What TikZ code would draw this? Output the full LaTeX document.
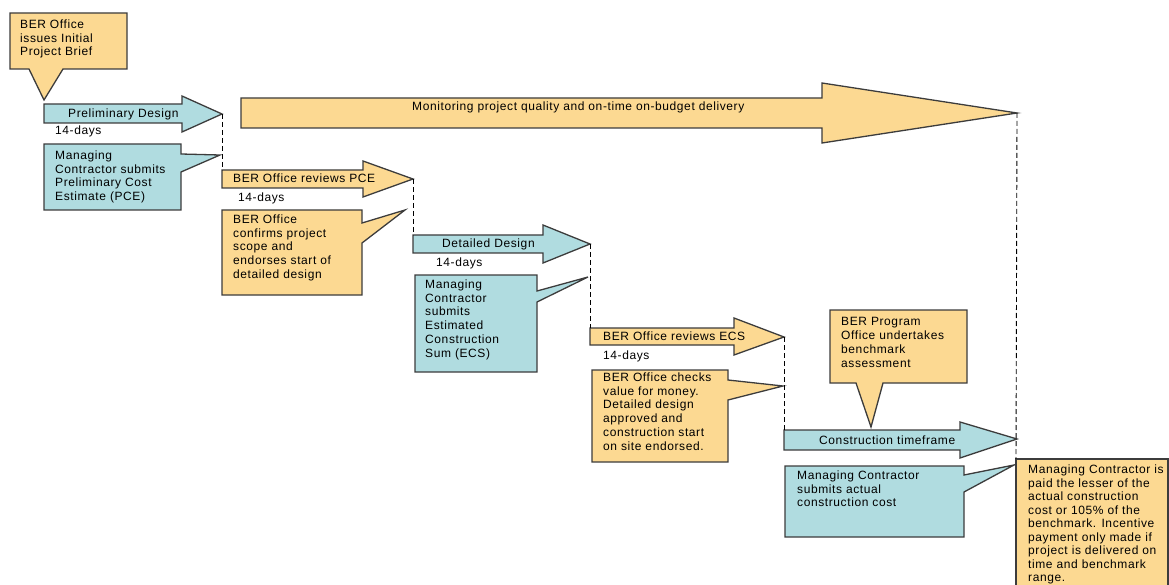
\documentclass[tikz,border=0pt]{standalone}
\usepackage{fontspec}
\setmainfont[LetterSpace=5]{Liberation Sans}
\definecolor{cYel}{RGB}{252,217,146}
\definecolor{cBlu}{RGB}{176,220,224}
\definecolor{cLine}{RGB}{60,60,60}
\begin{document}
\begin{tikzpicture}[x=1pt,y=-1pt,
  shp/.style={draw=cLine, line width=1.3pt, line join=miter},
  ybox/.style={shp, fill=cYel},
  bshape/.style={shp, fill=cBlu},
  lbl/.style={inner sep=0pt, anchor=west, font=\fontsize{12}{13.8}\selectfont},
  txt/.style={inner sep=0pt, anchor=north west, align=left, font=\fontsize{12}{13.8}\selectfont},
  sepline/.style={draw=black, line width=0.9pt, dash pattern=on 5pt off 3pt}]
\useasboundingbox (0,0) rectangle (1169,585);

% ---- arrows ----
% Preliminary Design
\draw[bshape] (44,104) -- (182,104) -- (182,96) -- (222,114) -- (182,132) -- (182,123) -- (44,123) -- cycle;
\coordinate (t1) at (222,114);
% Monitoring
\draw[ybox] (241,98) -- (822,98) -- (822,83) -- (1017,113) -- (822,143) -- (822,128) -- (241,128) -- cycle;
\coordinate (t2) at (1017,113);
% BER Office reviews PCE
\draw[ybox] (222,170) -- (363,170) -- (363,161) -- (413,179) -- (363,197) -- (363,188) -- (222,188) -- cycle;
\coordinate (s3) at (222,170);
\coordinate (t3) at (413,179);
% Detailed Design
\draw[bshape] (413,235) -- (543,235) -- (543,225) -- (590,244) -- (543,263) -- (543,253) -- (413,253) -- cycle;
\coordinate (s4) at (413,235);
\coordinate (t4) at (590,244);
% BER Office reviews ECS
\draw[ybox] (590,328) -- (734,328) -- (734,318) -- (784,337) -- (734,355) -- (734,345) -- (590,345) -- cycle;
\coordinate (s5) at (590,328);
\coordinate (t5) at (784,337);
% Construction timeframe
\draw[bshape] (784,430) -- (960,430) -- (960,422) -- (1017,439) -- (960,458) -- (960,450) -- (784,450) -- cycle;
\coordinate (s6) at (784,430);

% ---- callouts ----
\draw[ybox] (10,13) -- (127,13) -- (127,69) -- (63,69) -- (44,100) -- (29,69) -- (10,69) -- cycle;
\draw[bshape] (44,144) -- (181,144) -- (181,154) -- (220,155) -- (181,172) -- (181,210) -- (44,210) -- cycle;
\draw[ybox] (222,210) -- (362,210) -- (362,223) -- (405,210) -- (362,243) -- (362,295) -- (222,295) -- cycle;
\draw[bshape] (415,275) -- (537,275) -- (537,291) -- (588,277) -- (537,302) -- (537,372) -- (415,372) -- cycle;
\draw[ybox] (592,370) -- (728,370) -- (728,380) -- (783,386) -- (728,400) -- (728,462) -- (592,462) -- cycle;
\draw[ybox] (830,310) -- (967,310) -- (967,383) -- (883,383) -- (871,427) -- (856,383) -- (830,383) -- cycle;
\draw[bshape] (785,466) -- (964,466) -- (964,475) -- (1014,465) -- (964,492) -- (964,537) -- (785,537) -- cycle;
\draw[ybox] (1016,459) rectangle (1168,592);
\coordinate (b8) at (1016,459);

% ---- dashed separators ----
\draw[sepline] (t1) -- (s3);
\draw[sepline] (t3) -- (s4);
\draw[sepline] (t4) -- (s5);
\draw[sepline] (t5) -- (s6);
\draw[sepline] (t2) -- (b8);

% ---- texts ----
\node[lbl] (l1) at (68,114) {Preliminary Design};
\node[lbl] (d1) at (55,131) {14-days};
\node[lbl] (l2) at (412,107) {Monitoring project quality and on-time on-budget delivery};
\node[lbl] (l3) at (233,178) {BER Office reviews PCE};
\node[lbl] (d3) at (238,198) {14-days};
\node[lbl] (l4) at (442,244) {Detailed Design};
\node[lbl] (d4) at (436,263) {14-days};
\node[lbl] (l5) at (603,336) {BER Office reviews ECS};
\node[lbl] (d5) at (603,356) {14-days};
\node[lbl] (l6) at (819,440) {Construction timeframe};

\node[txt] (c1) at (20,19.5) {BER Office\\issues Initial\\Project Brief};
\node[txt] (c2) at (55,150.5) {Managing\\Contractor submits\\Preliminary Cost\\Estimate (PCE)};
\node[txt] (c3) at (233,214.5) {BER Office\\confirms project\\scope and\\endorses start of\\detailed design};
\node[txt] (c4) at (425,279.5) {Managing\\Contractor\\submits\\Estimated\\Construction\\Sum (ECS)};
\node[txt] (c5) at (603,372.5) {BER Office checks\\value for money.\\Detailed design\\approved and\\construction start\\on site endorsed.};
\node[txt] (c6) at (841,317.5) {BER Program\\Office undertakes\\benchmark\\assessment};
\node[txt] (c7) at (797,470.5) {Managing Contractor\\submits actual\\construction cost};
\node[txt, font=\fontsize{12}{13.5}\selectfont] (c8) at (1028,465) {Managing Contractor is\\paid the lesser of the\\actual construction\\cost or 105\% of the\\benchmark. Incentive\\payment only made if\\project is delivered on\\time and benchmark\\range.};
\end{tikzpicture}
\end{document}
